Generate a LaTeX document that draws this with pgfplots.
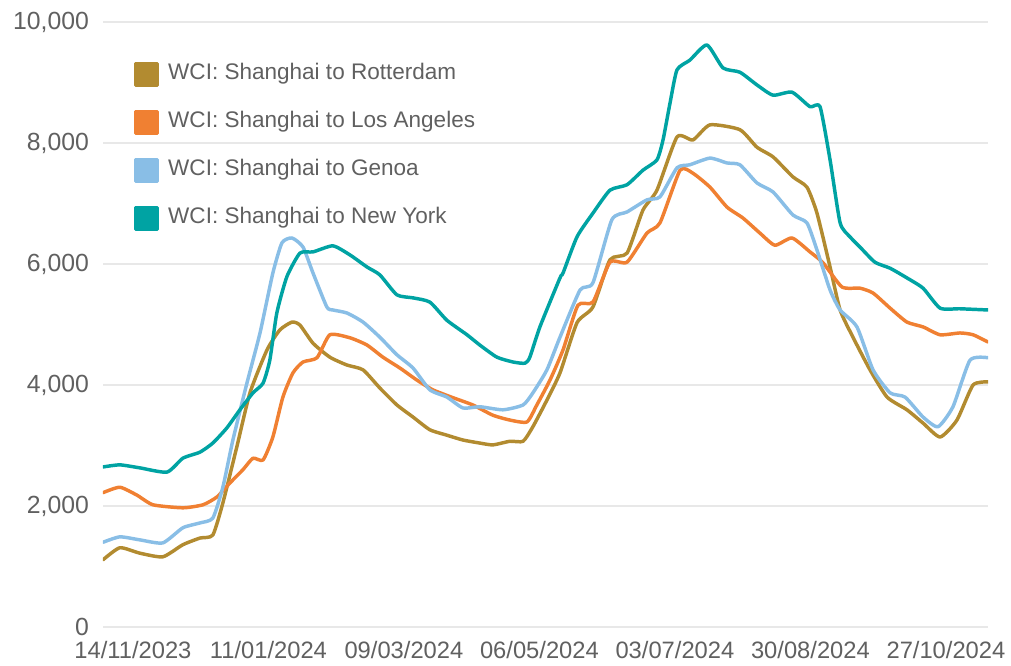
\documentclass[border=0pt]{standalone}
\usepackage{pgfplots}
\pgfplotsset{compat=1.18}
\usepackage{pgfplotstable}
\usepackage{fontspec}
\setmainfont{Liberation Sans}

\definecolor{cgold}{RGB}{178,139,48}
\definecolor{corange}{RGB}{240,128,50}
\definecolor{cblue}{RGB}{137,190,230}
\definecolor{cteal}{RGB}{0,163,163}
\definecolor{cgrid}{RGB}{232,232,232}
\definecolor{ctext}{RGB}{96,96,96}

% x = days since 14/11/2023
\pgfplotstableread{
d v
-12.8 1110
-5.6 1310
3.0 1220
12.8 1160
21.4 1360
28.7 1470
34.2 1520
38.5 2050
44.5 2980
50.1 3870
57.4 4580
62.9 4910
68.1 5040
71.5 4990
77.1 4690
84.3 4460
91.6 4330
98.5 4250
105.7 3950
113.0 3670
119.9 3470
127.1 3260
134.4 3170
141.3 3090
148.5 3040
154.1 3010
161.4 3070
167.0 3070
171.2 3310
177.2 3750
182.8 4200
190.1 5030
196.9 5290
204.2 6070
211.5 6180
218.3 6890
224.3 7220
232.9 8100
239.7 8050
247.0 8300
259.8 8220
267.1 7930
274.0 7770
282.5 7440
288.5 7270
292.8 6840
298.4 5950
302.7 5240
308.2 4790
315.5 4250
322.8 3800
331.3 3590
338.2 3370
345.5 3140
352.7 3420
359.6 4000
366.0 4050
}\rotterdam

\pgfplotstableread{
d v
-12.8 2220
-5.6 2310
1.7 2180
8.6 2020
21.4 1970
30.0 2020
36.0 2150
41.5 2380
47.1 2600
51.4 2790
55.7 2760
59.9 3140
64.2 3800
68.5 4200
72.8 4380
78.8 4450
84.3 4830
92.9 4780
100.2 4660
107.0 4460
114.3 4280
121.6 4080
128.4 3920
137.0 3790
145.5 3670
154.1 3500
161.4 3420
168.7 3390
172.9 3670
178.5 4080
184.1 4580
190.5 5320
196.9 5370
204.2 6030
211.5 6030
220.0 6510
225.6 6680
234.2 7550
239.7 7500
247.0 7270
254.3 6940
261.1 6760
268.4 6510
274.8 6310
282.1 6430
289.8 6200
295.4 6020
303.5 5620
311.2 5600
316.8 5520
324.1 5270
331.3 5040
338.2 4960
345.5 4830
354.0 4860
359.6 4830
366.0 4710
}\losangeles

\pgfplotstableread{
d v
-12.8 1400
-5.6 1490
3.0 1440
12.8 1390
21.4 1640
28.7 1720
34.2 1800
38.5 2310
42.8 3090
48.8 4030
54.4 4860
59.9 5850
63.8 6350
68.1 6430
72.8 6280
77.1 5850
83.0 5290
85.6 5240
91.6 5190
98.5 5040
105.7 4790
113.0 4500
119.9 4280
127.1 3920
134.4 3800
141.3 3620
148.5 3640
158.4 3590
167.0 3670
171.2 3870
177.2 4250
182.8 4790
191.4 5570
196.9 5690
205.0 6730
211.5 6860
220.0 7060
225.6 7110
232.9 7590
238.4 7640
247.0 7750
254.3 7670
259.8 7640
267.1 7340
274.0 7190
282.5 6810
288.5 6680
292.8 6230
298.4 5570
302.7 5240
309.9 4960
316.8 4250
324.1 3870
330.5 3800
338.2 3470
344.6 3310
351.0 3640
358.3 4410
366.0 4450
}\genoa

\pgfplotstableread{
d v
-12.8 2645
-5.6 2680
3.0 2630
14.6 2560
21.4 2790
28.7 2890
34.2 3040
40.2 3290
45.8 3590
51.4 3870
55.7 4030
58.6 4410
61.6 5190
65.9 5790
71.5 6180
77.1 6200
85.6 6300
92.9 6150
100.2 5950
105.7 5820
113.0 5490
119.9 5440
127.1 5370
134.4 5070
143.0 4830
148.5 4660
155.8 4460
162.7 4380
167.8 4360
169.9 4460
174.2 4960
182.8 5770
184.1 5850
190.1 6450
196.9 6840
204.2 7220
211.5 7310
218.3 7550
224.3 7720
226.9 8050
229.9 8660
232.9 9210
238.4 9370
245.7 9620
252.6 9240
259.8 9170
267.1 8960
274.0 8790
282.1 8840
289.8 8600
294.1 8600
298.4 7720
302.7 6680
306.9 6450
311.2 6280
317.6 6030
324.1 5930
331.3 5770
338.2 5600
345.5 5270
354.0 5260
366.0 5240
}\newyork

\begin{document}
\begin{tikzpicture}
\path[use as bounding box] (-77.25pt,-29.25pt) rectangle (681pt,470.25pt);
\begin{axis}[
  scale only axis,
  width=663.75pt, height=453.75pt,
  xmin=-12.8, xmax=366, ymin=0, ymax=10000,
  axis line style={draw=none},
  tick style={draw=none},
  major tick length=0pt,
  ytick={0,2000,4000,6000,8000,10000},
  xtick={0,58,116,174,232,290,348},
  xticklabels={14/11/2023,11/01/2024,09/03/2024,06/05/2024,03/07/2024,30/08/2024,27/10/2024},
  ymajorgrids,
  grid style={color=cgrid, line width=1.5pt},
  /pgf/number format/assume math mode=true,
  /pgf/number format/1000 sep={,},
  scaled y ticks=false,
  ticklabel style={text=ctext},
  yticklabel style={anchor=east, xshift=-7pt, font=\fontsize{18.6}{21}\selectfont},
  xticklabel style={anchor=north, yshift=-9.5pt, inner sep=1pt, font=\fontsize{17.8}{20}\selectfont},
  legend style={draw=none, fill=none, at={(0.03,0.941)}, anchor=north west,
    font=\fontsize{16.9}{20}\selectfont, text=ctext, row sep=15.5pt,
    nodes={text height=12.5pt, text depth=4pt},
    legend cell align=left},
  legend image code/.code={\fill (0pt,-8.25pt) rectangle (16.5pt,8.25pt);
    \path[draw=none] (0pt,0pt) -- (22.5pt,0pt);},
  every axis plot/.append style={line width=2.6pt, line join=round, line cap=round, smooth, tension=0.35},
]
\addplot[color=cgold] table[x=d,y=v] {\rotterdam};
\addlegendentry{WCI: Shanghai to Rotterdam}
\addplot[color=corange] table[x=d,y=v] {\losangeles};
\addlegendentry{WCI: Shanghai to Los Angeles}
\addplot[color=cblue] table[x=d,y=v] {\genoa};
\addlegendentry{WCI: Shanghai to Genoa}
\addplot[color=cteal] table[x=d,y=v] {\newyork};
\addlegendentry{WCI: Shanghai to New York}
\end{axis}
\end{tikzpicture}
\end{document}
